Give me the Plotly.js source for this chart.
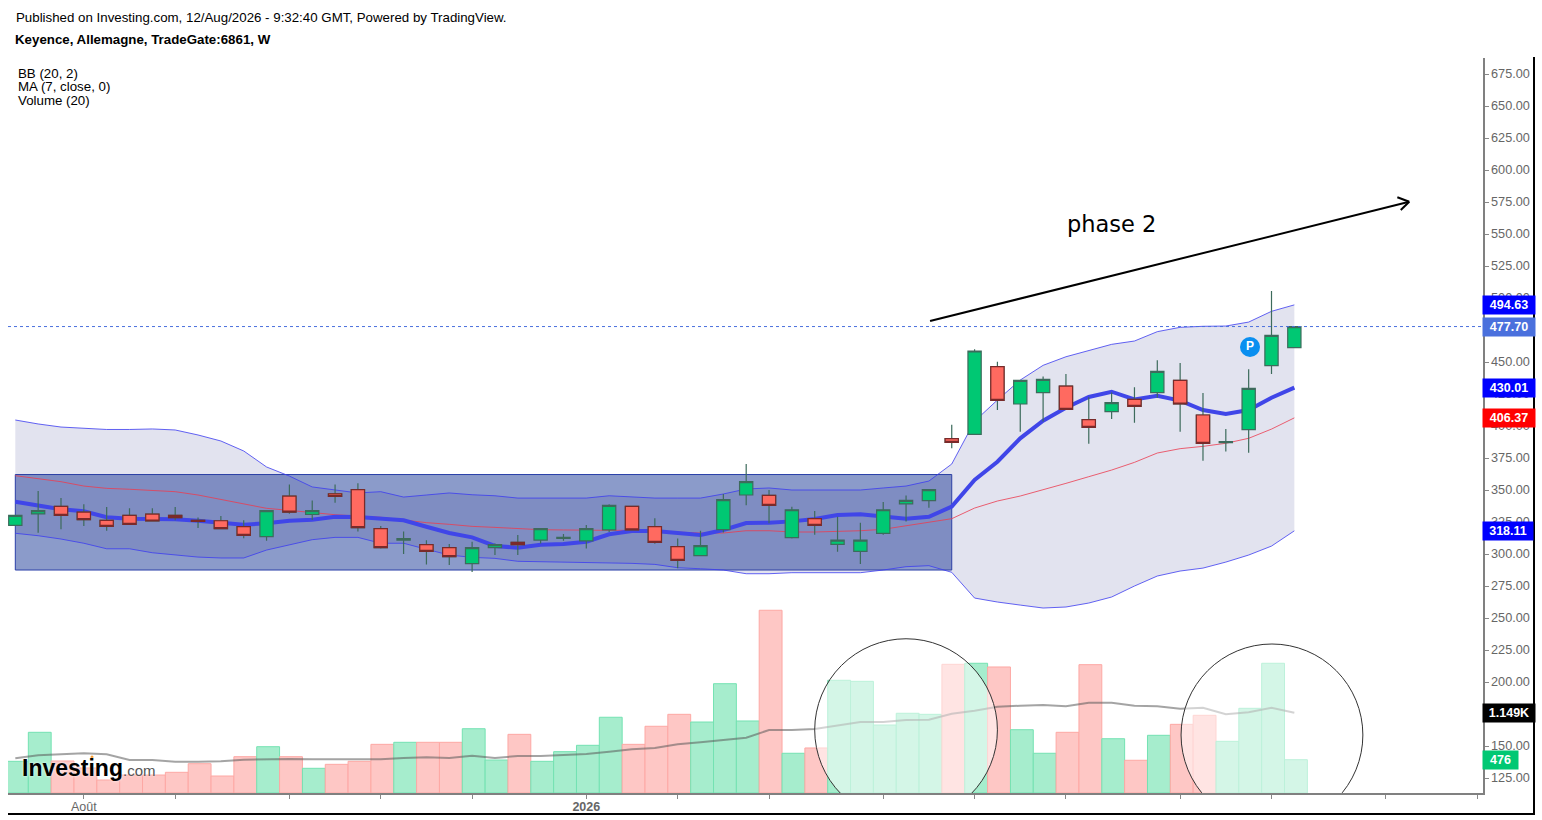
<!DOCTYPE html>
<html>
<head>
<meta charset="utf-8">
<script src="https://cdn.plot.ly/plotly-3.0.1.min.js"></script>
<style>html,body{margin:0;padding:0;background:#fff;overflow:hidden}#chart{width:1542px;height:820px}</style>
</head>
<body>
<div id="chart"></div>
<script>
// Weekly candles
const openPrices = [322.4,331.3,337.2,332.8,326.3,330.2,331.2,330.2,326.3,326.0,
 321.4,313.6,345.3,331.0,347.1,350.3,319.8,310.9,307.3,305.0,
 292.5,305.0,309.1,310.9,312.2,310.2,318.8,337.2,321.4,305.7,
 298.7,319.0,346.1,345.8,312.8,327.6,307.6,302.1,316.1,339.1,
 341.7,390.1,393.5,446.4,417.2,426.1,431.2,405.0,411.2,420.8,
 426.1,435.7,408.6,387.0,397.1,447.1,461.2];
const highPrices = [330.2,349.2,343.7,338.8,336.7,335.7,335.7,336.7,328.6,329.7,
 326.3,333.9,354.4,341.9,354.4,355.2,321.9,317.5,310.7,307.8,
 309.6,308.3,314.9,319.8,315.6,322.7,338.8,337.8,327.9,312.2,
 318.2,346.9,370.3,350.0,337.0,333.6,329.2,324.5,340.6,345.8,
 350.3,401.0,459.9,450.3,435.7,438.6,440.6,422.4,426.1,430.2,
 451.3,449.2,425.8,397.7,444.3,505.5,477.9];
const lowPrices = [322.4,316.7,319.3,321.9,318.2,323.2,325.8,326.3,320.3,319.8,
 312.3,310.4,331.5,326.6,340.1,317.5,304.4,300.0,291.9,291.4,
 285.9,299.2,299.2,308.3,310.4,304.4,317.2,318.8,308.1,288.8,
 298.7,316.9,338.0,324.0,312.2,315.1,301.8,292.2,315.1,325.5,
 336.2,382.6,393.5,412.5,395.6,403.6,413.0,386.2,405.5,402.6,
 422.1,395.6,372.9,380.0,379.2,440.6,461.2];
const closePrices = [330.2,333.9,330.2,326.8,321.6,323.2,325.8,328.4,325.5,319.8,
 314.6,333.9,332.8,333.9,345.1,320.6,305.0,312.0,302.1,297.9,
 305.0,307.3,307.3,319.8,313.0,319.8,338.0,318.8,309.1,295.1,
 306.5,342.5,356.5,338.0,334.6,322.4,310.9,310.9,334.6,341.9,
 350.3,387.2,458.6,420.1,435.7,436.5,413.0,399.0,418.2,415.4,
 442.7,417.2,386.5,387.8,429.4,470.8,477.7];
const bbUpper = [404.7,401.6,399.2,398.0,397.3,397.3,397.7,396.9,393.0,388.3,
 380.5,368.0,360.9,352.4,350.0,347.7,348.7,344.5,346.1,347.7,
 346.3,345.5,343.7,343.7,343.7,343.7,345.5,344.5,343.7,343.7,
 343.7,346.9,350.8,351.6,350.0,350.0,350.0,350.0,351.6,353.1,
 357.0,370.3,403.7,420.3,435.9,447.4,454.1,458.8,463.8,466.4,
 473.7,477.1,477.9,478.1,481.2,489.6,494.63];
const bbMiddle = [361.2,359.1,356.5,353.1,351.3,350.6,349.8,348.7,346.1,342.7,
 339.0,335.7,334.1,332.3,330.7,329.7,328.7,326.6,324.5,323.2,
 321.6,320.8,319.8,319.0,318.8,318.5,318.5,318.5,317.7,317.0,
 316.4,316.4,318.2,318.2,317.2,317.2,317.7,318.2,319.3,321.9,
 324.8,327.6,335.9,341.4,345.3,350.0,355.2,360.4,365.6,371.6,
 378.9,382.3,384.1,386.5,390.4,397.6,406.37];
const bbLower = [316.2,314.3,311.7,308.4,304.1,304.1,301.0,299.2,297.6,296.9,
 296.9,303.1,307.0,311.2,313.0,313.0,308.4,308.4,303.7,299.2,
 297.4,296.6,294.3,294.0,293.5,293.5,293.2,292.7,291.9,289.3,
 288.5,287.5,284.6,284.6,285.4,285.4,285.4,285.4,287.5,290.1,
 290.9,285.7,265.6,262.5,260.1,257.8,258.6,261.7,266.4,275.0,
 282.8,286.7,289.0,293.7,299.2,306.2,318.11];
const ma7 = [340.9,337.7,334.9,333.4,328.7,327.6,327.3,327.1,326.0,324.5,
 322.9,324.0,326.0,326.8,329.1,328.9,327.3,326.3,321.3,316.4,
 313.0,306.3,304.9,307.3,307.8,309.6,315.4,317.9,317.9,316.2,
 314.8,318.8,324.2,324.5,325.5,327.3,330.5,331.0,329.1,327.6,
 329.1,337.0,357.8,372.1,390.4,404.1,414.3,422.7,426.8,420.8,
 423.7,419.8,412.5,409.4,412.5,422.1,430.01];
const volumes = [453,868,458,358,186,257,257,296,419,243,
 519,662,519,353,410,453,696,725,725,725,
 919,472,839,453,591,682,1083,696,954,1125,
 1015,1563,1030,2613,568,644,1612,1597,972,1140,
 1125,1840,1855,1802,905,568,868,1835,776,468,
 825,982,1111,739,1211,1855,476];
const volumeMa = [496,539,553,568,553,472,472,448,448,453,
 476,486,486,482,482,482,482,501,511,501,
 533,501,529,529,543,558,591,625,644,696,
 725,758,791,901,901,915,968,1015,1015,1044,
 1048,1134,1177,1234,1248,1258,1240,1291,1291,1248,
 1240,1205,1220,1125,1154,1220,1149];
const priceTicks = [125,150,175,200,225,250,275,300,325,350,375,400,425,450,475,500,525,550,575,600,625,650,675];
const timeTicks = [3,7,12,16,20,25,29,33,38,42,46,51,55,60,64];
const timeLabels = ['Août','','','','','<b>2026</b>','','','','','','','','',''];
const lastPrice = 477.70;
const pivotMarkIndex = [54.06];
const pivotMarkPrice = [461.7];

const FONT = '"Liberation Sans", Arial, sans-serif';
const idx = openPrices.map((_, i) => i);
const isUp = idx.map(i => closePrices[i] >= openPrices[i]);
const PX = x => (x - 8) / 1475;
const PY = y => (793 - y) / 735;
const WICK = '#3d6b5c';

const redIdx = idx.filter(i => !isUp[i]);

const traces = [
  {type:'bar', x:idx, y:volumes, xaxis:'x', yaxis:'y', width:1, offset:-0.43,
   marker:{color:idx.map(i => isUp[i] ? '#a6edcd' : '#fec7c5'),
           line:{color:idx.map(i => isUp[i] ? '#74e2b2' : '#fda8a4'), width:1}}},
  {type:'scatter', mode:'lines', x:idx, y:volumeMa, xaxis:'x', yaxis:'y',
   line:{color:'rgba(90,90,90,0.55)', width:2}},
  {type:'scatter', mode:'lines', x:idx, y:bbLower, xaxis:'x', yaxis:'y2',
   line:{color:'rgba(60,60,240,0.8)', width:1}},
  {type:'scatter', mode:'lines', x:idx, y:bbUpper, xaxis:'x', yaxis:'y2', fill:'tonexty',
   fillcolor:'rgba(60,68,150,0.15)', line:{color:'rgba(60,60,240,0.8)', width:1}},
  {type:'scatter', mode:'lines', x:idx, y:bbMiddle, xaxis:'x', yaxis:'y2',
   line:{color:'rgba(235,60,80,0.8)', width:1}},
  {type:'scatter', mode:'lines', x:idx, y:ma7, xaxis:'x', yaxis:'y2',
   line:{color:'#4046e8', width:4}},
  {type:'candlestick', x:idx, open:openPrices, high:highPrices, low:lowPrices, close:closePrices,
   xaxis:'x', yaxis:'y3', whiskerwidth:0,
   increasing:{line:{color:WICK, width:1.2}, fillcolor:'#00c873'},
   decreasing:{line:{color:WICK, width:1.2}, fillcolor:'#ff6a60'}},
  {type:'candlestick', x:redIdx,
   open:redIdx.map(i => openPrices[i]), close:redIdx.map(i => closePrices[i]),
   high:redIdx.map(i => openPrices[i]), low:redIdx.map(i => closePrices[i]),
   xaxis:'x', yaxis:'y3', whiskerwidth:0,
   decreasing:{line:{color:'#7a2a2a', width:1.2}, fillcolor:'#ff6a60'}},
  {type:'scatter', mode:'markers+text', x:pivotMarkIndex, y:pivotMarkPrice, xaxis:'x', yaxis:'y3',
   text:['<b>P</b>'], textposition:'middle center', textfont:{color:'#fff', size:12, family:FONT},
   marker:{size:20, color:'#0a8ff0'}}
];

const label = (text, x, y, size, extra) => Object.assign({
  text, xref:'paper', yref:'paper', x:PX(x), y:PY(y), xanchor:'left', yanchor:'middle',
  showarrow:false, font:{family:FONT, size:size, color:'#000'}
}, extra || {});

const badge = (text, value, yref, color, w) => ({
  text:'<b>'+text+'</b>', xref:'paper', x:1, xanchor:'left', yref:yref, y:value, yanchor:'middle',
  showarrow:false, bgcolor:color, width:w, height:16, borderpad:1, align:'center', xshift:-1,
  font:{family:FONT, size:12.5, color:'#fff'}
});

const annotations = [
  label('Published on Investing.com, 12/Aug/2026 - 9:32:40 GMT, Powered by TradingView.', 14, 17, 13.3),
  label('<b>Keyence, Allemagne, TradeGate:6861, W</b>', 13, 40, 13.3),
  label('BB (20, 2)', 16, 73, 13.3),
  label('MA (7, close, 0)', 16, 87, 13.3),
  label('Volume (20)', 16, 100, 13.3),
  label('phase 2', 1065, 224, 22.5, {font:{family:'"DejaVu Sans", sans-serif', size:22.5, color:'#000'}}),
  label('<b>Investing</b>', 20, 768, 23, {font:{family:FONT, size:23, color:'#000', shadow:'0 0 3px #fff'}}),
  label('.com', 121, 770, 15, {font:{family:FONT, size:15, color:'#555', shadow:'0 0 2px #fff'}}),
  badge('494.63', 494.63, 'y2', '#0000ff', 50),
  badge('477.70', lastPrice, 'y2', '#4a70dd', 50),
  badge('430.01', 430.01, 'y2', '#0000ff', 50),
  badge('406.37', 406.37, 'y2', '#ff0000', 50),
  badge('318.11', 318.11, 'y2', '#0000ff', 48),
  badge('1.149K', 1149, 'y', '#000000', 50),
  badge('476', 476, 'y', '#00c873', 33)
];

const seg = (x0, y0, x1, y1) => ({type:'line', xref:'x', yref:'y2', x0, y0, x1, y1, layer:'above',
  line:{color:'#000', width:2}});
const circle = (x0, x1, y0, y1) => ({type:'circle', xref:'x', yref:'y2', x0, x1, y0, y1, layer:'above',
  line:{color:'#333', width:1}, fillcolor:'rgba(255,255,255,0.52)'});

const shapes = [
  {type:'rect', xref:'x', yref:'y2', x0:0, x1:41, y0:287.5, y1:362.1, layer:'below',
   fillcolor:'rgba(23,55,149,0.5)', line:{color:'#2a3fa8', width:1}},
  {type:'line', xref:'paper', yref:'y2', x0:0, x1:1, y0:lastPrice, y1:lastPrice, layer:'above',
   line:{color:'#4a70dd', width:1, dash:'dot'}},
  circle(35.0, 43.0, 91.4, 233.8),
  circle(51.04, 59.0, 87.5, 229.7),
  seg(40.05, 482.0, 61.03, 575.2),
  seg(60.51, 578.7, 61.03, 575.2),
  seg(60.66, 568.7, 61.03, 575.2),
  {type:'circle', xref:'paper', yref:'paper', x0:PX(90.5), x1:PX(93.5), y0:PY(758.5), y1:PY(755.5),
   fillcolor:'#f7941d', line:{width:0}, layer:'above'},
  {type:'line', xref:'paper', yref:'paper', x0:PX(1534), x1:PX(1534), y0:PY(57), y1:PY(814), line:{color:'#000', width:2}},
  {type:'line', xref:'paper', yref:'paper', x0:PX(8), x1:PX(1535), y0:PY(814), y1:PY(814), line:{color:'#000', width:2}}
];

const layout = {
  width:1542, height:820, margin:{l:8, r:59, t:58, b:27, pad:0}, autosize:false,
  paper_bgcolor:'#fff', plot_bgcolor:'#fff', showlegend:false, hovermode:false,
  boxgap:0.17, boxmode:'overlay', bargap:0, dragmode:false,
  font:{family:FONT, size:12, color:'#666'},
  xaxis:{range:[-0.32,64.26], showgrid:false, zeroline:false, rangeslider:{visible:false},
    tickmode:'array', tickvals:timeTicks, ticktext:timeLabels, ticks:'outside', ticklen:4, tickwidth:1, tickcolor:'#888',
    showline:true, linecolor:'#808080', linewidth:1.5, tickfont:{family:FONT, size:12.5, color:'#666'}, tickangle:0, ticklabelstandoff:-3},
  yaxis:{range:[0,10510], showgrid:false, zeroline:false, showticklabels:false, ticks:'', showline:false},
  yaxis2:{range:[113.3,687.5], overlaying:'y', side:'right', anchor:'x', showgrid:false, zeroline:false,
    tickmode:'array', tickvals:priceTicks, ticktext:priceTicks.map(v => v.toFixed(2)), ticks:'outside', ticklen:4, tickwidth:1, tickcolor:'#888',
    showline:true, linecolor:'#808080', linewidth:1.5, tickfont:{family:FONT, size:12.7, color:'#666'}},
  yaxis3:{range:[113.3,687.5], overlaying:'y', side:'right', anchor:'x', visible:false},
  annotations, shapes
};

Plotly.newPlot('chart', traces, layout, {displayModeBar:false, staticPlot:true});
</script>
</body>
</html>
